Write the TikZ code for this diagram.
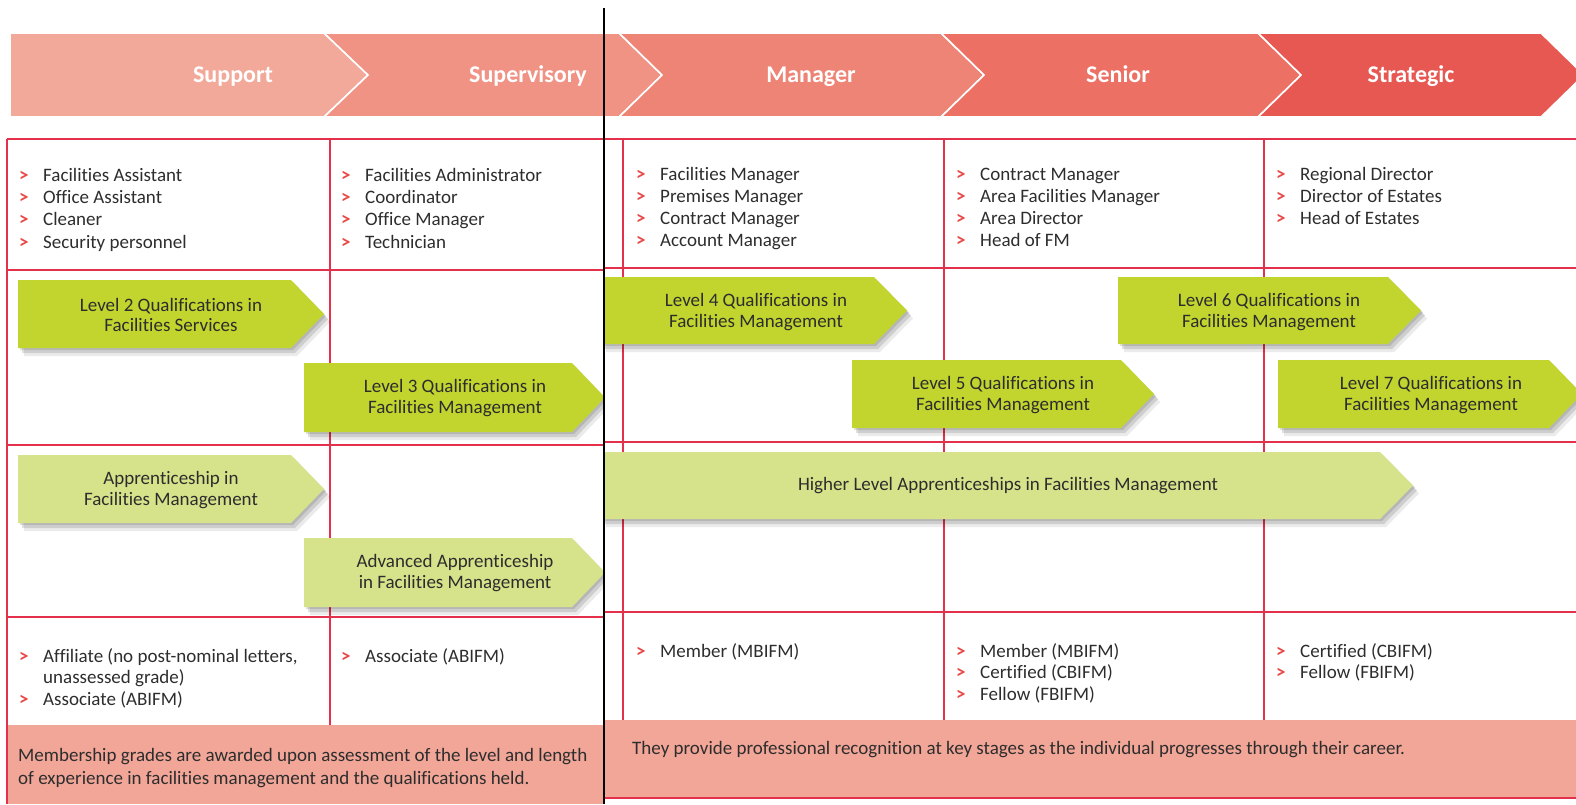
\documentclass[tikz,border=0pt]{standalone}
\usepackage{fontspec}
\setmainfont{Carlito}[Ligatures={NoCommon}]
\usetikzlibrary{shadows}

\definecolor{gridred}{RGB}{228,48,74}
\definecolor{bulred}{RGB}{232,72,70}
\definecolor{txtgray}{RGB}{45,45,45}
\definecolor{bandA}{RGB}{243,169,154}
\definecolor{bandB}{RGB}{240,147,133}
\definecolor{bandC}{RGB}{238,132,118}
\definecolor{bandD}{RGB}{236,112,100}
\definecolor{bandE}{RGB}{232,88,82}
\definecolor{qualgreen}{RGB}{194,213,47}
\definecolor{appgreen}{RGB}{214,227,138}
\definecolor{notepink}{RGB}{242,166,152}

\newcommand{\bul}{\makebox[24pt][l]{\textcolor{bulred}{\bfseries >}}}
\newcommand{\hangin}{\hspace*{24pt}}

\tikzset{
  band/.style={draw=white, line width=1.6pt},
  bandlabel/.style={anchor=base, inner sep=0pt, text=white, font=\fontsize{24}{26}\selectfont\bfseries},
  redline/.style={draw=gridred, line width=1.8pt},
  softshadow/.style={
    drop shadow={shadow xshift=2pt, shadow yshift=-2pt, opacity=0.12, fill=black},
    drop shadow={shadow xshift=4pt, shadow yshift=-5pt, opacity=0.12, fill=black},
    drop shadow={shadow xshift=6pt, shadow yshift=-8pt, opacity=0.08, fill=black}},
  qual/.style={fill=qualgreen, softshadow},
  appr/.style={fill=appgreen, softshadow},
  qualtext/.style={align=center, inner sep=0pt, text=txtgray, font=\fontsize{19}{20.5}\selectfont},
  item/.style={anchor=base west, inner sep=0pt, text=txtgray, font=\fontsize{19}{22}\selectfont},
  notebox/.style={fill=notepink}
}

\begin{document}
\begin{tikzpicture}[x=1pt, y=-1pt]
	\useasboundingbox (0,0) rectangle (1576,804);

	% left sheet
	\begin{scope}
	\clip (0,0) rectangle (604,804);

	\fill[bandA, band] (10,33) -- (324,33) -- (368,75) -- (324,117) -- (10,117) -- cycle;
	\fill[bandB, band] (324,33) -- (640,33) -- (640,117) -- (324,117) -- (368,75) -- cycle;
	\node[bandlabel] (support) at (233,82) {Support};
	\node[bandlabel] (supervisory) at (528,82) {Supervisory};

	\fill[notebox] (7,725) rectangle (604,804);
	\draw[redline] (7,139) -- (604,139);
	\draw[redline] (7,270) -- (604,270);
	\draw[redline] (7,445) -- (604,445);
	\draw[redline] (7,617) -- (604,617);
	\draw[redline] (7,139) -- (7,804);
	\draw[redline] (330,139) -- (330,725);

	\path[qual] (18,280) -- (291,280) -- (324,314) -- (291,348) -- (18,348) -- cycle;
	\path[qual] (304,363) -- (572,363) -- (605,397.5) -- (572,432) -- (304,432) -- cycle;
	\path[appr] (18,455) -- (291,455) -- (324,489) -- (291,523) -- (18,523) -- cycle;
	\path[appr] (304,538) -- (572,538) -- (605,572.5) -- (572,607) -- (304,607) -- cycle;

	\node[qualtext] (lvtwo) at (171,315) {Level 2 Qualifications in\\Facilities Services};
	\node[qualtext] (lvthree) at (455,398) {Level 3 Qualifications in\\Facilities Management};
	\node[qualtext] (appr) at (171,490) {Apprenticeship in\\Facilities Management};
	\node[qualtext] (advappr) at (455,573) {Advanced Apprenticeship\\in Facilities Management};

	\node[item] (sup1) at (19,181) {\bul Facilities Assistant};
	\node[item] (sup2) at (19,203.3) {\bul Office Assistant};
	\node[item] (sup3) at (19,225.6) {\bul Cleaner};
	\node[item] (sup4) at (19,248) {\bul Security personnel};

	\node[item] (svr1) at (341,181) {\bul Facilities Administrator};
	\node[item] (svr2) at (341,203.3) {\bul Coordinator};
	\node[item] (svr3) at (341,225.6) {\bul Office Manager};
	\node[item] (svr4) at (341,248) {\bul Technician};

	\node[item] (gsup1) at (19,662) {\bul Affiliate (no post-nominal letters,};
	\node[item] (gsup2) at (19,683.5) {\hangin unassessed grade)};
	\node[item] (gsup3) at (19,705) {\bul Associate (ABIFM)};
	\node[item] (gsvr1) at (341,662) {\bul Associate (ABIFM)};

	\node[item] (notel1) at (18,761) {Membership grades are awarded upon assessment of the level and length};
	\node[item] (notel2) at (18,784) {of experience in facilities management and the qualifications held.};
	\end{scope}

	% right sheet
	\begin{scope}
	\clip (604,0) rectangle (1576,804);

	\fill[bandB, band] (590,33) -- (619,33) -- (662,75) -- (619,117) -- (590,117) -- cycle;
	\fill[bandC, band] (619,33) -- (941,33) -- (984,75) -- (941,117) -- (619,117) -- (662,75) -- cycle;
	\fill[bandD, band] (941,33) -- (1258,33) -- (1301,75) -- (1258,117) -- (941,117) -- (984,75) -- cycle;
	\fill[bandE, band] (1258,33) -- (1541,33) -- (1584,75) -- (1541,117) -- (1258,117) -- (1301,75) -- cycle;
	\node[bandlabel] (manager) at (811,82) {Manager};
	\node[bandlabel] (senior) at (1118,82) {Senior};
	\node[bandlabel] (strategic) at (1411,82) {Strategic};

	\fill[notebox] (604,720) rectangle (1576,798);
	\draw[redline] (604,139) -- (1576,139);
	\draw[redline] (604,268) -- (1576,268);
	\draw[redline] (604,442) -- (1576,442);
	\draw[redline] (604,612) -- (1576,612);
	\draw[redline] (604,798) -- (1576,798);
	\draw[redline] (623,139) -- (623,720);
	\draw[redline] (944,139) -- (944,720);
	\draw[redline] (1264,139) -- (1264,720);

	\path[qual] (600,277) -- (874,277) -- (907,310.5) -- (874,344) -- (600,344) -- cycle;
	\path[qual] (852,360) -- (1121,360) -- (1154,394) -- (1121,428) -- (852,428) -- cycle;
	\path[qual] (1118,277) -- (1388,277) -- (1421,310.5) -- (1388,344) -- (1118,344) -- cycle;
	\path[qual] (1278,360) -- (1549,360) -- (1582,394) -- (1549,428) -- (1278,428) -- cycle;
	\path[appr] (600,452) -- (1380,452) -- (1413,485.5) -- (1380,519) -- (600,519) -- cycle;

	\node[qualtext] (lvfour) at (756,312) {Level 4 Qualifications in\\Facilities Management};
	\node[qualtext] (lvfive) at (1003,395) {Level 5 Qualifications in\\Facilities Management};
	\node[qualtext] (lvsix) at (1269,312) {Level 6 Qualifications in\\Facilities Management};
	\node[qualtext] (lvseven) at (1431,395) {Level 7 Qualifications in\\Facilities Management};
	\node[qualtext] (hlappr) at (1008,486) {Higher Level Apprenticeships in Facilities Management};

	\node[item] (man1) at (636,180) {\bul Facilities Manager};
	\node[item] (man2) at (636,202) {\bul Premises Manager};
	\node[item] (man3) at (636,224) {\bul Contract Manager};
	\node[item] (man4) at (636,246) {\bul Account Manager};

	\node[item] (sen1) at (956,180) {\bul Contract Manager};
	\node[item] (sen2) at (956,202) {\bul Area Facilities Manager};
	\node[item] (sen3) at (956,224) {\bul Area Director};
	\node[item] (sen4) at (956,246) {\bul Head of FM};

	\node[item] (str1) at (1276,180) {\bul Regional Director};
	\node[item] (str2) at (1276,202) {\bul Director of Estates};
	\node[item] (str3) at (1276,224) {\bul Head of Estates};

	\node[item] (gman1) at (636,657) {\bul Member (MBIFM)};
	\node[item] (gsen1) at (956,657) {\bul Member (MBIFM)};
	\node[item] (gsen2) at (956,678.5) {\bul Certified (CBIFM)};
	\node[item] (gsen3) at (956,700) {\bul Fellow (FBIFM)};
	\node[item] (gstr1) at (1276,657) {\bul Certified (CBIFM)};
	\node[item] (gstr2) at (1276,678.5) {\bul Fellow (FBIFM)};

	\node[item] (noter) at (632,754) {They provide professional recognition at key stages as the individual progresses through their career.};
	\end{scope}

	\draw[line width=2pt] (604,8) -- (604,804);

\end{tikzpicture}
\end{document}
